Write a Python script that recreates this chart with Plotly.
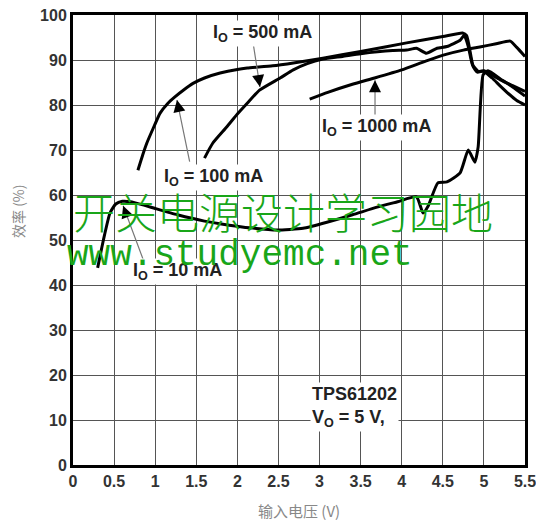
import plotly.graph_objects as go

# ---- data ----
io10_v = [0.30, 0.37, 0.45, 0.52, 0.60, 0.70, 0.85, 1.00, 1.27, 1.60, 1.90, 2.15, 2.48, 2.80, 3.10,
          3.40, 3.70, 3.95, 4.18, 4.26, 4.32, 4.44, 4.55, 4.71, 4.81, 4.89, 4.93, 4.99, 5.05, 5.20,
          5.35, 5.50]
io10_eff = [43.8, 50.0, 56.0, 58.0, 58.6, 58.5, 57.8, 57.0, 55.6, 54.2, 53.3, 52.7, 52.2, 52.6, 54.0,
            55.6, 57.3, 58.5, 59.6, 56.0, 57.5, 62.7, 62.9, 64.9, 70.0, 67.3, 70.7, 86.7, 87.6, 85.8,
            84.0, 82.0]

io100_v = [0.79, 0.85, 0.90, 0.98, 1.06, 1.15, 1.24, 1.35, 1.46, 1.60, 1.79, 2.00, 2.12, 2.43,
           2.70, 3.04, 3.50, 4.06, 4.50, 4.74, 4.79, 4.87, 4.92, 5.00, 5.20, 5.35, 5.50]
io100_eff = [65.5, 69.0, 71.6, 75.0, 78.2, 80.3, 81.8, 83.4, 84.8, 86.0, 87.1, 87.9, 88.2, 88.7,
             89.4, 90.4, 91.9, 93.8, 95.2, 96.0, 95.4, 88.5, 87.3, 87.6, 85.6, 84.3, 83.0]

io500_v = [1.60, 1.70, 1.87, 2.00, 2.12, 2.27, 2.52, 2.68, 2.85, 3.04, 3.28, 3.50, 3.89, 4.06,
           4.18, 4.30, 4.43, 4.55, 4.71, 4.76, 4.81, 4.86, 4.93, 5.00, 5.10, 5.20, 5.30, 5.40, 5.50]
io500_eff = [68.2, 71.5, 75.1, 78.0, 80.4, 83.3, 86.0, 87.8, 89.2, 90.2, 90.8, 91.4, 92.1, 92.2,
             92.6, 91.5, 92.6, 93.0, 94.4, 95.5, 93.0, 89.0, 87.5, 87.5, 86.0, 84.2, 82.5, 81.0, 80.0]

io1000_v = [2.88, 3.10, 3.40, 3.67, 4.00, 4.30, 4.55, 4.75, 4.95, 5.15, 5.32, 5.40, 5.50]
io1000_eff = [81.3, 82.8, 84.6, 86.0, 87.8, 89.8, 91.3, 92.2, 92.9, 93.6, 94.2, 92.8, 90.8]

x_ticks = [0, 0.5, 1, 1.5, 2, 2.5, 3, 3.5, 4, 4.5, 5, 5.5]
x_tick_labels = ["0", "0.5", "1", "1.5", "2", "2.5", "3", "3.5", "4", "4.5", "5", "5.5"]
y_ticks = [0, 10, 20, 30, 40, 50, 60, 70, 80, 90, 100]

# ---- figure ----
fig = go.Figure()
line_style = dict(color="black", width=3, shape="spline", smoothing=0.5)
for xs, ys, name in [(io10_v, io10_eff, "10 mA"), (io100_v, io100_eff, "100 mA"),
                     (io500_v, io500_eff, "500 mA"), (io1000_v, io1000_eff, "1000 mA")]:
    fig.add_trace(go.Scatter(x=xs, y=ys, mode="lines", line=line_style, name=name,
                             hoverinfo="skip"))

lbl_font = dict(family="Liberation Sans", size=18, color="#222")

def label(text, x, y, xanchor="center", align="center"):
    fig.add_annotation(x=x, y=y, xref="x", yref="y", text="<b>" + text + "</b>",
                       showarrow=False, font=lbl_font, bgcolor="white", xanchor=xanchor,
                       align=align, borderpad=1)

def pointer(x, y, ax, ay):
    # thin gray shaft
    fig.add_annotation(x=x, y=y, xref="x", yref="y", text="", ax=ax, ay=ay,
                       showarrow=True, arrowhead=0, arrowwidth=1.2, arrowcolor="#777")
    # black head
    L = (ax ** 2 + ay ** 2) ** 0.5
    fig.add_annotation(x=x, y=y, xref="x", yref="y", text="", ax=ax * 9 / L, ay=ay * 9 / L,
                       showarrow=True, arrowhead=2, arrowsize=1.6, arrowwidth=1.5,
                       arrowcolor="black")

# pointers
pointer(2.275, 84.0, -7, -45)
pointer(1.265, 81.1, 13, 63)
pointer(0.61, 57.6, 22, 59)
pointer(3.675, 85.5, 0, 38)

label("I<sub>O</sub> = 500 mA", 2.30, 96.0)
label("I<sub>O</sub> = 100 mA", 1.715, 63.8)
label("I<sub>O</sub> = 10 mA", 1.27, 42.9)
label("I<sub>O</sub> = 1000 mA", 3.69, 75.1)
label("TPS61202<br>V<sub>O</sub> = 5 V,", 2.88, 13.0, xanchor="left", align="left")

# watermark
fig.add_annotation(x=283, y=522 - 210, xref="paper", yref="paper", text="开关电源设计学习园地",
                   showarrow=False, font=dict(family="Noto Sans CJK SC", size=42, color="#19a619",
                                              weight=300))
fig.add_annotation(x=240, y=522 - 255, xref="paper", yref="paper", text="www.studyemc.net",
                   showarrow=False, font=dict(family="Liberation Mono", size=36, color="#19a619"))

# axis titles
fig.add_annotation(x=18, y=522 - 211, xref="paper", yref="paper", text="效率 (%)", textangle=-90,
                   showarrow=False, font=dict(family="Noto Sans CJK SC", size=14, color="#888"))
fig.add_annotation(x=299, y=522 - 510, xref="paper", yref="paper", text="输入电压 (V)",
                   showarrow=False, font=dict(family="Noto Sans CJK SC", size=15, color="#888"))

W, H = 536, 522
ML, MR, MT, MB = 73, 11, 15, 57
fig.update_layout(
    width=W, height=H, margin=dict(l=ML, r=MR, t=MT, b=MB, autoexpand=False),
    paper_bgcolor="white", plot_bgcolor="white", showlegend=False,
    xaxis=dict(range=[0, 5.5], tickvals=x_ticks, ticktext=x_tick_labels, automargin=False,
               ticklabeloverflow="allow",
               showgrid=True, gridcolor="#555", gridwidth=1, zeroline=False,
               showline=True, linecolor="black", linewidth=3, mirror=True, ticks="",
               tickfont=dict(family="Liberation Sans", size=16, color="#333", weight="bold")),
    yaxis=dict(range=[0, 100], tickvals=y_ticks, automargin=False,
               ticklabeloverflow="allow",
               showgrid=True, gridcolor="#555", gridwidth=1, zeroline=False,
               showline=True, linecolor="black", linewidth=3, mirror=True, ticks="",
               tickfont=dict(family="Liberation Sans", size=16, color="#333", weight="bold")),
)

# annotations in paper coords were given in pixels; convert
for a in fig.layout.annotations:
    if a.xref == "paper":
        a.x = (a.x - ML) / (W - ML - MR)
        a.y = (a.y - MB) / (H - MT - MB)
        a.xanchor = "center"
        a.yanchor = "middle"

fig.write_html("out.html")
